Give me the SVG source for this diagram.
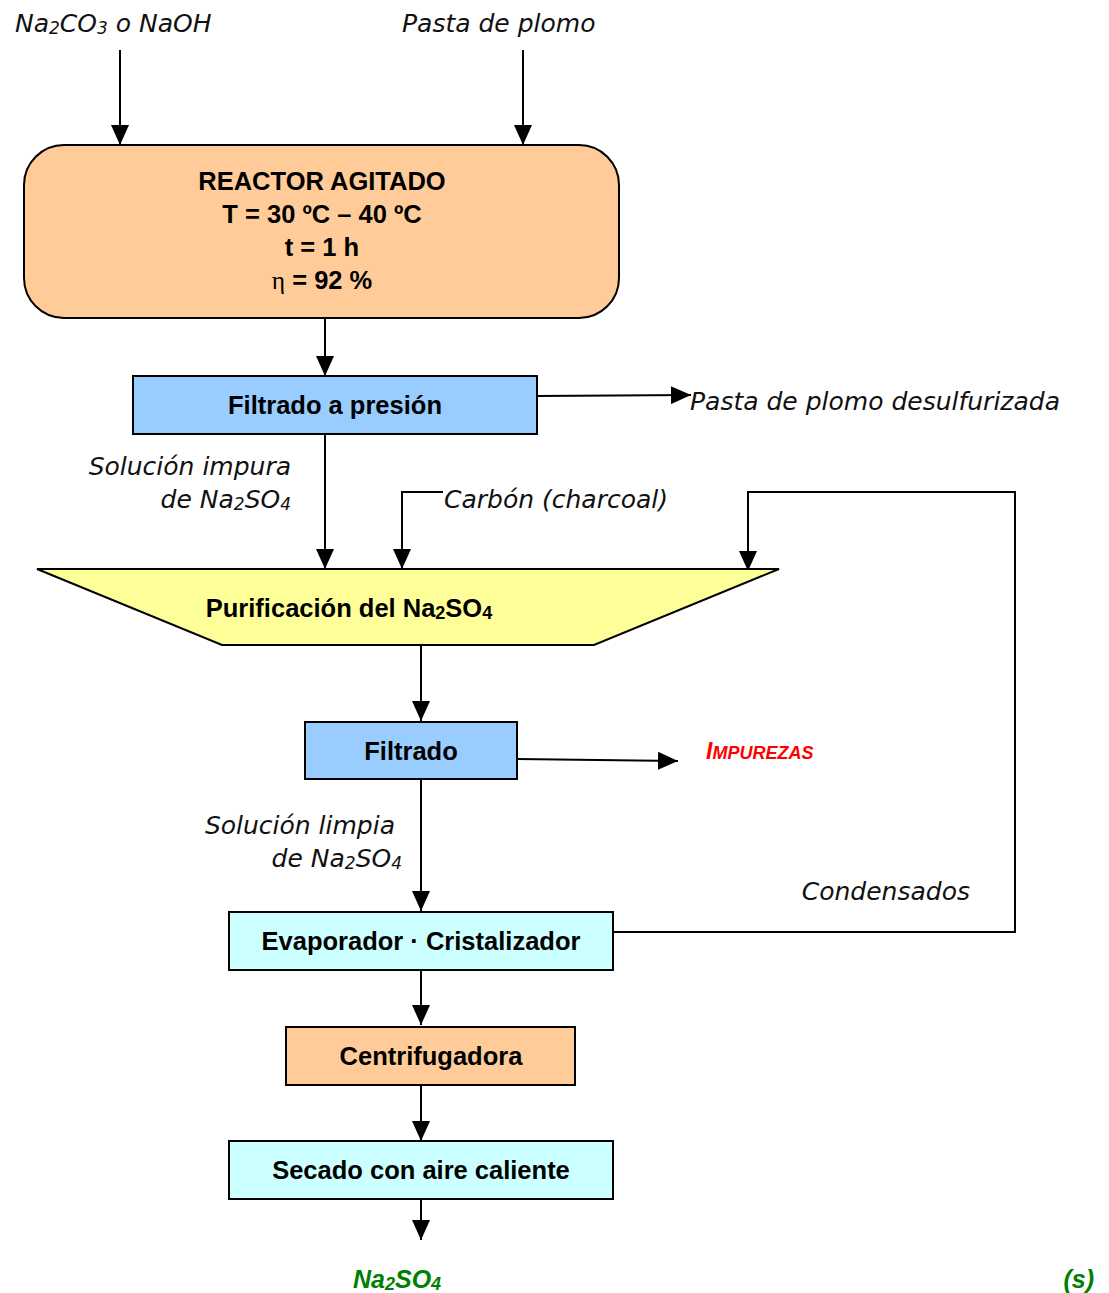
<svg xmlns="http://www.w3.org/2000/svg" width="1109" height="1293" viewBox="0 0 1109 1293">
<style>
.it{font-family:"DejaVu Sans","Liberation Sans",sans-serif;font-style:italic;font-size:25px;fill:#111}
.b{font-family:"Liberation Sans",Arial,sans-serif;font-weight:bold;font-size:25.5px;fill:#000}
.box{stroke:#000;stroke-width:2}
.ln{fill:none;stroke:#000;stroke-width:2}
.sub{font-size:17px}
</style>
<defs>
<marker id="ah" markerUnits="userSpaceOnUse" markerWidth="20" markerHeight="18" refX="20" refY="9" orient="auto">
<path d="M0,0 L20,9 L0,18 Z" fill="#000"/>
</marker>
</defs>
<rect width="1109" height="1293" fill="#fff"/>

<g id="connectors">
<line class="ln" x1="120" y1="50" x2="120" y2="145" marker-end="url(#ah)"/>
<line class="ln" x1="523" y1="50" x2="523" y2="145" marker-end="url(#ah)"/>
<line class="ln" x1="325" y1="318" x2="325" y2="376" marker-end="url(#ah)"/>
<line class="ln" x1="537" y1="396" x2="691" y2="395" marker-end="url(#ah)"/>
<line class="ln" x1="325" y1="434" x2="325" y2="569" marker-end="url(#ah)"/>
<polyline class="ln" points="443,492 402,492 402,569" marker-end="url(#ah)"/>
<polyline class="ln" points="613,932 1015,932 1015,492 748,492 748,571" marker-end="url(#ah)"/>
<line class="ln" x1="421" y1="645" x2="421" y2="721" marker-end="url(#ah)"/>
<line class="ln" x1="517" y1="759" x2="678" y2="761" marker-end="url(#ah)"/>
<line class="ln" x1="421" y1="779" x2="421" y2="911" marker-end="url(#ah)"/>
<line class="ln" x1="421" y1="970" x2="421" y2="1025" marker-end="url(#ah)"/>
<line class="ln" x1="421" y1="1085" x2="421" y2="1141" marker-end="url(#ah)"/>
<line class="ln" x1="421" y1="1199" x2="421" y2="1240" marker-end="url(#ah)"/>
</g>

<g id="labels">
<text class="it" x="15" y="32">Na<tspan class="sub" dy="2">2</tspan><tspan dy="-2">CO</tspan><tspan class="sub" dy="2">3</tspan><tspan dy="-2"> o NaOH</tspan></text>
<text class="it" x="402" y="32">Pasta de plomo</text>
<text class="it" x="690" y="410">Pasta de plomo desulfurizada</text>
<text class="it" x="291" y="475" text-anchor="end">Solución impura</text>
<text class="it" x="291" y="508" text-anchor="end">de Na<tspan class="sub" dy="2">2</tspan><tspan dy="-2">SO</tspan><tspan class="sub" dy="2">4</tspan></text>
<text class="it" x="444" y="508">Carbón (charcoal)</text>
<text x="706" y="759" font-family="'Liberation Sans',Arial,sans-serif" font-style="italic" font-weight="bold" fill="#FF0000"><tspan font-size="23">I</tspan><tspan font-size="18">MPUREZAS</tspan></text>
<text class="it" x="395" y="834" text-anchor="end">Solución limpia</text>
<text class="it" x="402" y="867" text-anchor="end">de Na<tspan class="sub" dy="2">2</tspan><tspan dy="-2">SO</tspan><tspan class="sub" dy="2">4</tspan></text>
<text class="it" x="970" y="900" text-anchor="end">Condensados</text>
<text x="353" y="1288" font-family="'Liberation Sans',Arial,sans-serif" font-style="italic" font-weight="bold" font-size="25" fill="#008000">Na<tspan font-size="18" dy="2">2</tspan><tspan dy="-2">SO</tspan><tspan font-size="18" dy="2">4</tspan></text>
<text x="1094" y="1288" text-anchor="end" font-family="'Liberation Sans',Arial,sans-serif" font-style="italic" font-weight="bold" font-size="25" fill="#008000">(s)</text>
</g>

<g id="reactor">
<rect class="box" x="24" y="145" width="595" height="173" rx="40" ry="40" fill="#FFCC99"/>
<text class="b" x="322" y="190" text-anchor="middle">REACTOR AGITADO</text>
<text class="b" x="322" y="223" text-anchor="middle">T = 30 ºC –  40 ºC</text>
<text class="b" x="322" y="256" text-anchor="middle">t = 1 h</text>
<text class="b" x="322" y="289" text-anchor="middle"><tspan font-weight="normal" font-family="'Liberation Serif',serif">η</tspan> = 92 %</text>
</g>

<g id="filtrado-presion">
<rect class="box" x="133" y="376" width="404" height="58" fill="#99CCFF"/>
<text class="b" x="335" y="414" text-anchor="middle">Filtrado a presión</text>
</g>

<g id="purificacion">
<polygon class="box" points="37,569 779,569 594,645 222,645" fill="#FFFF99"/>
<text class="b" x="349" y="617" text-anchor="middle">Purificación del Na<tspan font-size="18" dy="2">2</tspan><tspan dy="-2">SO</tspan><tspan font-size="18" dy="2">4</tspan></text>
</g>

<g id="filtrado">
<rect class="box" x="305" y="722" width="212" height="57" fill="#99CCFF"/>
<text class="b" x="411" y="760" text-anchor="middle">Filtrado</text>
</g>

<g id="evaporador">
<rect class="box" x="229" y="912" width="384" height="58" fill="#CCFFFF"/>
<text class="b" x="421" y="950" text-anchor="middle">Evaporador · Cristalizador</text>
</g>

<g id="centrifugadora">
<rect class="box" x="286" y="1027" width="289" height="58" fill="#FFCC99"/>
<text class="b" x="431" y="1065" text-anchor="middle">Centrifugadora</text>
</g>

<g id="secado">
<rect class="box" x="229" y="1141" width="384" height="58" fill="#CCFFFF"/>
<text class="b" x="421" y="1179" text-anchor="middle">Secado con aire caliente</text>
</g>
</svg>
